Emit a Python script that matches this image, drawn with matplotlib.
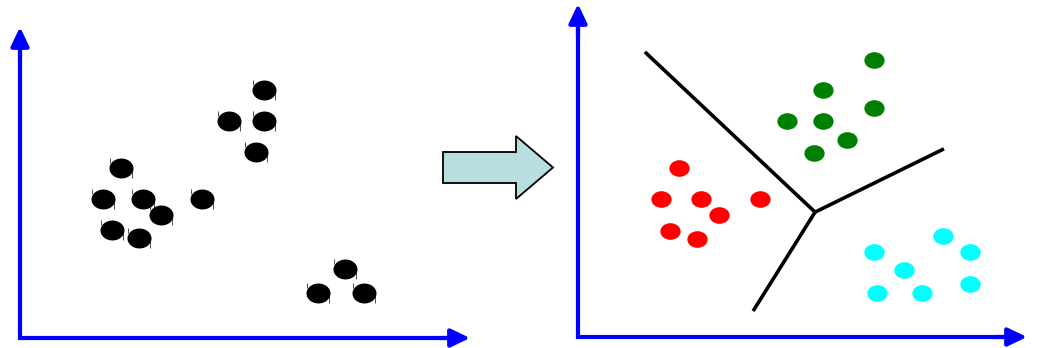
import numpy as np
import matplotlib
matplotlib.use("Agg")
import matplotlib.pyplot as plt
from matplotlib.path import Path
import matplotlib.patches as mpatches

# ---- data (panel coordinates, 0..10 on both axes) ----
raw_x = [5.42, 4.64, 5.42, 5.24, 2.24, 1.84, 2.73, 3.13, 4.04, 2.04, 2.64, 7.22, 6.62, 7.64]
raw_y = [7.97, 6.98, 6.98, 5.98, 5.47, 4.47, 4.47, 3.95, 4.47, 3.47, 3.22, 2.22, 1.45, 1.45]

green_x = [6.59, 5.46, 6.59, 4.65, 5.46, 5.99, 5.26]
green_y = [8.32, 7.42, 6.88, 6.49, 6.49, 5.92, 5.53]
red_x = [2.25, 1.85, 2.74, 3.14, 4.05, 2.05, 2.65]
red_y = [5.08, 4.14, 4.14, 3.66, 4.14, 3.18, 2.94]
cyan_x = [8.13, 6.59, 8.73, 7.26, 6.66, 7.66, 8.73]
cyan_y = [3.03, 2.55, 2.55, 2.01, 1.32, 1.32, 1.59]

junction = (5.28, 3.75)
boundary_ends_x = [1.49, 8.15, 3.90]
boundary_ends_y = [8.56, 5.65, 0.78]

W, H = 1040, 348
fig = plt.figure(figsize=(W / 100, H / 100), dpi=100)
fig.patch.set_facecolor("white")


def ellipse_marker(aspect):
    c = Path.unit_circle()
    v = c.vertices.copy()
    v[:, 1] *= aspect
    return Path(v, c.codes)


tick_marker = Path([(-0.92, 0.83), (-0.92, 0.42), (0.96, -0.25), (0.96, -0.83)],
                   [Path.MOVETO, Path.LINETO, Path.MOVETO, Path.LINETO])


def setup_panel(rect):
    ax = fig.add_axes(rect)
    ax.set_xlim(0, 10)
    ax.set_ylim(0, 10)
    for s in ax.spines.values():
        s.set_visible(False)
    ax.set_xticks([])
    ax.set_yticks([])
    ax.patch.set_alpha(0)
    # axis lines with a square corner
    ax.plot([0, 0, 0.97], [0.95, 0, 0], transform=ax.transAxes, color="#0000FF",
            lw=3, solid_capstyle="projecting", solid_joinstyle="miter", clip_on=False)
    ap = dict(arrowstyle="-|>,head_length=1.15,head_width=0.55", color="#0000FF",
              lw=3, shrinkA=0, shrinkB=0)
    ax.annotate("", xy=(0, 1), xytext=(0, 0.9), xycoords="axes fraction",
                textcoords="axes fraction", arrowprops=ap)
    ax.annotate("", xy=(1, 0), xytext=(0.93, 0), xycoords="axes fraction",
                textcoords="axes fraction", arrowprops=ap)
    return ax


# left panel
axL = setup_panel([20 / W, (H - 338) / H, 450 / W, 311 / H])
sL = 17.3
axL.scatter(raw_x, raw_y, s=sL ** 2, marker=ellipse_marker(0.83), c="black",
            linewidths=0, zorder=3)
axL.scatter(raw_x, raw_y, s=(sL * 0.96) ** 2, marker=tick_marker, facecolors="none",
            edgecolors="#333333", linewidths=0.6, zorder=2)

# right panel
axR = setup_panel([578 / W, (H - 337) / H, 449 / W, 333 / H])
for ex, ey in zip(boundary_ends_x, boundary_ends_y):
    axR.plot([junction[0], ex], [junction[1], ey], color="black", lw=2.6,
             solid_capstyle="butt", zorder=2)
sR = 14.6
mk = ellipse_marker(0.82)
axR.scatter(green_x, green_y, s=sR ** 2, marker=mk, c="#008000", linewidths=0, zorder=3)
axR.scatter(red_x, red_y, s=sR ** 2, marker=mk, c="#FF0000", linewidths=0, zorder=3)
axR.scatter(cyan_x, cyan_y, s=sR ** 2, marker=mk, c="#00FFFF", linewidths=0, zorder=3)

# middle block arrow
axM = fig.add_axes([0, 0, 1, 1])
axM.set_xlim(0, W)
axM.set_ylim(H, 0)
axM.axis("off")
axM.patch.set_alpha(0)
axM.add_patch(mpatches.FancyArrow(443, 167.5, 110, 0, width=31, head_width=63,
                                  head_length=37, length_includes_head=True,
                                  facecolor="#B8DEE0", edgecolor="black", lw=1.3))

fig.savefig("out.png", dpi=100, facecolor="white")
